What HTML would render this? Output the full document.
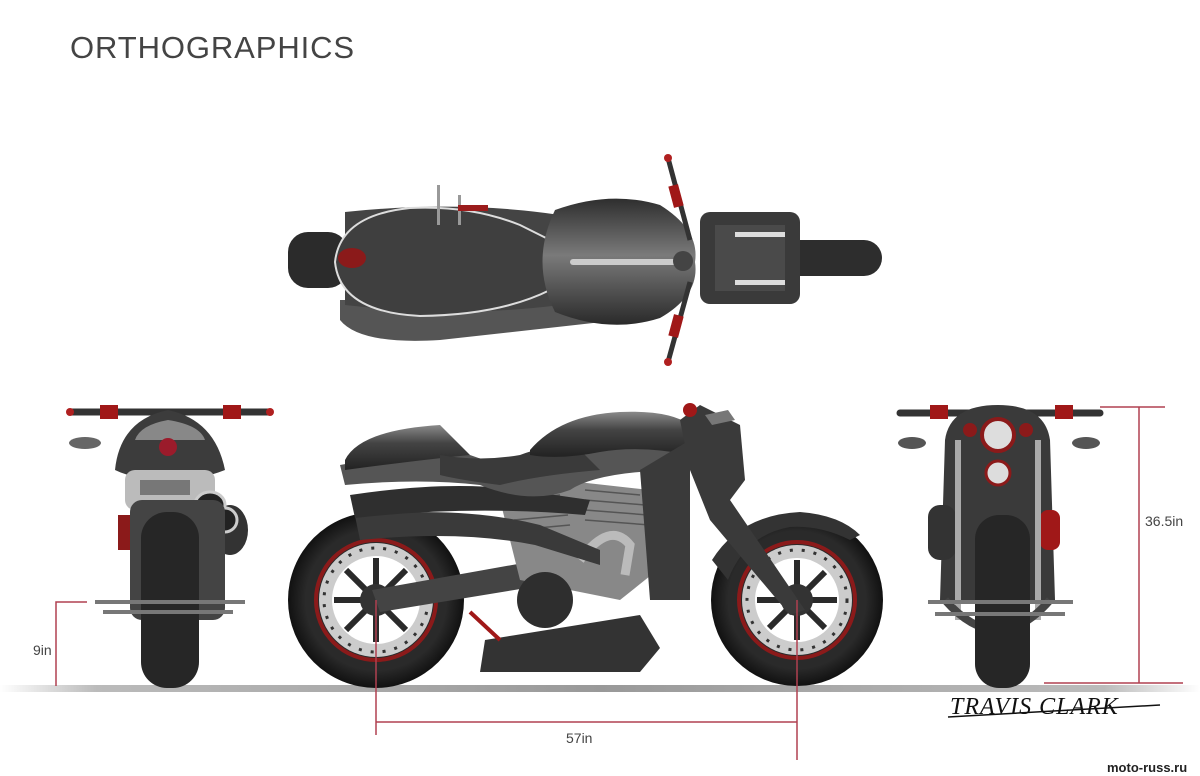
<!DOCTYPE html>
<html><head><meta charset="utf-8"><style>
html,body{margin:0;padding:0;background:#fff;width:1200px;height:776px;overflow:hidden}
</style></head><body>
<svg width="1200" height="776" viewBox="0 0 1200 776" xmlns="http://www.w3.org/2000/svg" font-family="Liberation Sans, sans-serif">
<defs>
<linearGradient id="gnd" x1="0" x2="1" y1="0" y2="0">
<stop offset="0" stop-color="#fff"/><stop offset="0.08" stop-color="#bbb"/><stop offset="0.5" stop-color="#999"/><stop offset="0.92" stop-color="#bbb"/><stop offset="1" stop-color="#fff"/>
</linearGradient>
<linearGradient id="tank" x1="0" x2="0" y1="0" y2="1">
<stop offset="0" stop-color="#2e2e2e"/><stop offset="0.45" stop-color="#7a7a7a"/><stop offset="1" stop-color="#2a2a2a"/>
</linearGradient>
<linearGradient id="sbody" x1="0" x2="0" y1="0" y2="1">
<stop offset="0" stop-color="#8a8a8a"/><stop offset="0.4" stop-color="#444"/><stop offset="1" stop-color="#222"/>
</linearGradient>
<radialGradient id="tire"><stop offset="0.8" stop-color="#2a2a2a"/><stop offset="1" stop-color="#111"/></radialGradient>
</defs>
<rect width="1200" height="776" fill="#fff"/>
<text x="70" y="58" font-size="31" fill="#444" letter-spacing="0.9">ORTHOGRAPHICS</text>

<rect x="0" y="685" width="1200" height="7" fill="url(#gnd)"/>

<!-- TOP VIEW -->
<g>
<rect x="288" y="232" width="60" height="56" rx="20" fill="#2b2b2b"/>
<rect x="780" y="240" width="102" height="36" rx="18" fill="#2d2d2d"/>
<rect x="700" y="212" width="100" height="92" rx="10" fill="#3a3a3a"/>
<rect x="715" y="225" width="70" height="66" fill="#4a4a4a"/>
<rect x="735" y="232" width="50" height="5" fill="#ddd"/><rect x="735" y="280" width="50" height="5" fill="#ddd"/>
<path d="M340 300 L560 300 Q600 330 620 320 L440 340 Q360 345 340 320Z" fill="#555"/>
<path d="M345 212 Q460 200 560 215 L560 305 Q460 318 345 305Z" fill="#444"/>
<path d="M335 262 Q340 215 410 208 Q470 205 520 225 L550 240 Q580 250 600 240 L610 290 Q580 280 550 290 Q500 315 420 316 Q340 312 335 262Z" fill="#3f3f3f" stroke="#ddd" stroke-width="2"/>
<path d="M555 210 Q610 190 660 205 Q700 230 695 262 Q700 295 660 318 Q610 334 555 312 Q530 262 555 210Z" fill="url(#tank)"/>
<rect x="570" y="259" width="110" height="6" rx="3" fill="#ccc"/>
<ellipse cx="352" cy="258" rx="14" ry="10" fill="#8b1a1a"/>
<rect x="437" y="185" width="3" height="40" fill="#999"/><rect x="458" y="195" width="3" height="30" fill="#999"/>
<rect x="458" y="205" width="30" height="6" fill="#9b1c1c"/>
<line x1="668" y1="158" x2="690" y2="240" stroke="#333" stroke-width="5"/>
<line x1="668" y1="362" x2="690" y2="282" stroke="#333" stroke-width="5"/>
<rect x="671" y="185" width="10" height="22" fill="#a01818" transform="rotate(-15 676 196)"/>
<rect x="671" y="315" width="10" height="22" fill="#a01818" transform="rotate(15 676 326)"/>
<circle cx="668" cy="158" r="4" fill="#b02020"/><circle cx="668" cy="362" r="4" fill="#b02020"/>
<circle cx="683" cy="261" r="10" fill="#444"/>
</g>

<!-- REAR VIEW -->
<g>
<line x1="70" y1="412" x2="270" y2="412" stroke="#333" stroke-width="7" stroke-linecap="round"/>
<rect x="100" y="405" width="18" height="14" fill="#a01818"/><rect x="223" y="405" width="18" height="14" fill="#a01818"/>
<circle cx="70" cy="412" r="4" fill="#b02020"/><circle cx="270" cy="412" r="4" fill="#b02020"/>
<ellipse cx="85" cy="443" rx="16" ry="6" fill="#666"/>
<path d="M115 470 Q120 420 168 410 Q215 420 225 470 Q200 480 170 480 Q135 480 115 470Z" fill="#3c3c3c"/>
<path d="M135 440 Q140 425 168 420 Q200 425 205 440 Z" fill="#888"/>
<circle cx="168" cy="447" r="9" fill="#9b1b2b"/>
<rect x="125" y="470" width="90" height="40" rx="10" fill="#bbb"/>
<rect x="140" y="480" width="50" height="15" fill="#777"/>
<ellipse cx="230" cy="530" rx="18" ry="25" fill="#333"/>
<ellipse cx="210" cy="505" rx="15" ry="13" fill="#222" stroke="#ccc" stroke-width="3"/>
<ellipse cx="225" cy="520" rx="12" ry="12" fill="#222" stroke="#ccc" stroke-width="3"/>
<rect x="118" y="515" width="14" height="35" fill="#8b1a1a"/><rect x="202" y="515" width="14" height="35" fill="#8b1a1a"/>
<rect x="130" y="500" width="95" height="120" rx="12" fill="#444"/>
<rect x="141" y="512" width="58" height="176" rx="26" fill="#262626"/>
<rect x="95" y="600" width="150" height="4" fill="#777"/><rect x="103" y="610" width="130" height="4" fill="#777"/>
</g>

<!-- FRONT VIEW -->
<g>
<line x1="900" y1="413" x2="1100" y2="413" stroke="#333" stroke-width="7" stroke-linecap="round"/>
<rect x="930" y="405" width="18" height="14" fill="#a01818"/><rect x="1055" y="405" width="18" height="14" fill="#a01818"/>
<ellipse cx="912" cy="443" rx="14" ry="6" fill="#555"/><ellipse cx="1086" cy="443" rx="14" ry="6" fill="#555"/>
<path d="M945 440 Q950 405 998 405 Q1045 405 1050 440 L1055 600 L940 600Z" fill="#3a3a3a"/>
<rect x="928" y="505" width="28" height="55" rx="12" fill="#333"/>
<rect x="1040" y="510" width="20" height="40" rx="8" fill="#a01818"/>
<circle cx="998" cy="435" r="16" fill="#ddd" stroke="#8b1a1a" stroke-width="4"/>
<circle cx="998" cy="473" r="12" fill="#ddd" stroke="#8b1a1a" stroke-width="3"/>
<circle cx="970" cy="430" r="7" fill="#8b1a1a"/><circle cx="1026" cy="430" r="7" fill="#8b1a1a"/>
<rect x="955" y="440" width="6" height="180" fill="#aaa"/><rect x="1035" y="440" width="6" height="180" fill="#aaa"/>
<path d="M945 600 Q998 660 1050 600" fill="none" stroke="#444" stroke-width="8"/>
<rect x="975" y="515" width="55" height="173" rx="24" fill="#262626"/>
<rect x="928" y="600" width="145" height="4" fill="#777"/><rect x="935" y="612" width="130" height="4" fill="#777"/>
</g>

<!-- SIDE VIEW -->
<g>
<circle cx="376" cy="600" r="88" fill="url(#tire)"/>
<circle cx="376" cy="600" r="60" fill="none" stroke="#8b1a1a" stroke-width="4"/>
<circle cx="376" cy="600" r="57" fill="#ccc"/>
<circle cx="376" cy="600" r="52" fill="none" stroke="#333" stroke-width="3" stroke-dasharray="3 9"/>
<circle cx="376" cy="600" r="44" fill="#fff"/>
<g stroke="#2a2a2a" stroke-width="6">
<line x1="376" y1="558" x2="376" y2="642"/><line x1="334" y1="600" x2="418" y2="600"/>
<line x1="346" y1="570" x2="406" y2="630"/><line x1="346" y1="630" x2="406" y2="570"/>
</g>
<circle cx="376" cy="600" r="16" fill="#333"/>
<circle cx="797" cy="600" r="86" fill="url(#tire)"/>
<circle cx="797" cy="600" r="58" fill="none" stroke="#8b1a1a" stroke-width="4"/>
<circle cx="797" cy="600" r="55" fill="#ccc"/>
<circle cx="797" cy="600" r="50" fill="none" stroke="#333" stroke-width="3" stroke-dasharray="3 9"/>
<circle cx="797" cy="600" r="42" fill="#fff"/>
<g stroke="#2a2a2a" stroke-width="6">
<line x1="797" y1="560" x2="797" y2="640"/><line x1="757" y1="600" x2="837" y2="600"/>
<line x1="769" y1="572" x2="825" y2="628"/><line x1="769" y1="628" x2="825" y2="572"/>
</g>
<circle cx="797" cy="600" r="16" fill="#333"/>
<path d="M712 560 Q740 515 800 512 Q840 515 860 535 L850 540 Q820 525 790 527 Q745 535 728 580Z" fill="#333"/>
<path d="M372 590 L540 560 L545 585 L380 612Z" fill="#444"/>
<path d="M500 500 L560 480 L650 490 L670 560 L620 600 L520 580Z" fill="#888"/>
<g stroke="#555" stroke-width="1.5">
<line x1="510" y1="500" x2="560" y2="495"/><line x1="512" y1="510" x2="565" y2="505"/><line x1="514" y1="520" x2="568" y2="515"/><line x1="516" y1="530" x2="570" y2="525"/>
<line x1="585" y1="490" x2="640" y2="495"/><line x1="585" y1="500" x2="645" y2="505"/><line x1="585" y1="510" x2="648" y2="515"/><line x1="585" y1="520" x2="650" y2="525"/>
</g>
<path d="M580 560 Q610 520 630 545 L625 575" fill="none" stroke="#bbb" stroke-width="9"/>
<circle cx="545" cy="600" r="28" fill="#2e2e2e"/>
<path d="M485 640 L640 615 L660 648 L640 672 L480 672 Z" fill="#333"/>
<path d="M355 516 Q460 505 540 525 L600 550 L600 565 L535 545 Q460 530 360 540Z" fill="#3a3a3a"/>
<path d="M350 495 Q450 480 520 490 L590 500 L585 515 Q470 505 355 518Z" fill="#2f2f2f"/>
<path d="M340 465 Q420 450 470 455 Q520 475 570 440 L650 440 L690 450 L690 470 Q600 470 570 490 Q530 505 480 485 Q420 478 345 485Z" fill="#555"/>
<path d="M345 460 Q360 430 440 425 L470 455 Q420 460 345 470Z" fill="url(#sbody)"/>
<path d="M440 455 Q480 462 520 455 Q560 440 580 450 L600 470 Q540 475 500 485 Q460 480 440 475Z" fill="#3a3a3a"/>
<path d="M530 450 Q560 415 620 412 Q670 410 690 425 L690 455 Q640 445 600 452 Q560 460 530 455Z" fill="url(#sbody)"/>
<path d="M640 470 L690 440 L690 600 L650 600Z" fill="#3a3a3a"/>
<path d="M680 420 L700 405 L740 425 L745 480 L730 500 L805 610 L790 615 L710 520 L690 470Z" fill="#3a3a3a"/>
<circle cx="690" cy="410" r="7" fill="#a01818"/>
<path d="M705 415 L728 410 L735 420 L712 425Z" fill="#777"/>
<line x1="470" y1="612" x2="500" y2="640" stroke="#a01818" stroke-width="4"/>
</g>

<g stroke="#b04050" stroke-width="1.5" fill="none">
<polyline points="87,602 56,602 56,686"/>
<line x1="376" y1="600" x2="376" y2="735"/>
<line x1="797" y1="600" x2="797" y2="760"/>
<line x1="376" y1="722" x2="797" y2="722"/>
<line x1="1100" y1="407" x2="1165" y2="407"/>
<line x1="1139" y1="407" x2="1139" y2="683"/>
<line x1="1044" y1="683" x2="1183" y2="683"/>
</g>
<text x="33" y="655" font-size="14" fill="#444">9in</text>
<text x="566" y="743" font-size="14" fill="#444">57in</text>
<text x="1145" y="526" font-size="14" fill="#444">36.5in</text>

<text x="950" y="714" font-size="24" font-family="Liberation Serif, serif" font-style="italic" fill="#111" letter-spacing="1">TRAVIS CLARK</text>
<line x1="948" y1="717" x2="1160" y2="705" stroke="#111" stroke-width="1.5"/>
<text x="1107" y="772" font-size="13" font-weight="bold" fill="#222">moto-russ.ru</text>
</svg>
</body></html>
